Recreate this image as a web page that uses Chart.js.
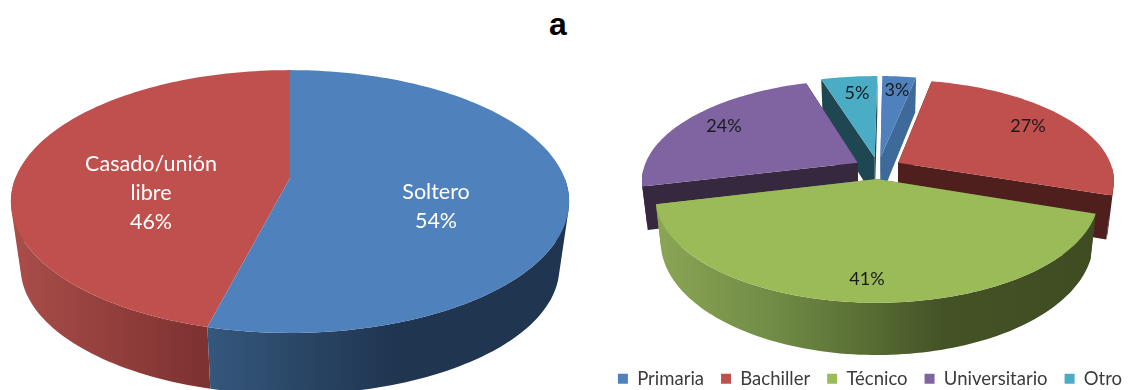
<!DOCTYPE html>
<html>
<head>
<meta charset="utf-8">
<script src="https://cdn.jsdelivr.net/npm/chart.js@4"></script>
<style>
    html, body { margin: 0; padding: 0; background: #fff; overflow: hidden; }
    #title { position: absolute; left: 508px; top: 0; width: 100px; text-align: center; font: bold 32px "Liberation Sans", Arial, sans-serif; color: #000; line-height: 48px; }
    canvas { position: absolute; top: 0; }
    #statusChart { left: 0; }
    #educationChart { left: 594px; }
</style>
</head>
<body>
<div id="title">a</div>
<canvas id="statusChart" width="594" height="390"></canvas>
<canvas id="educationChart" width="552" height="398"></canvas>
<script>
const statusLabels = ['Soltero', 'Casado/unión libre'];
const statusValues = [54, 46];
const educationLabels = ['Primaria', 'Bachiller', 'Técnico', 'Universitario', 'Otro'];
const educationValues = [3, 27, 41, 24, 5];

// Tilted disc: maps a point of the unit circle to the canvas with a bit of perspective
function project(disc, u, v) {
    const w = 1 - disc.p * v;
    return { x: disc.cx + disc.a * u / w, y: disc.cy + disc.b * v / w };
}

function rimAngles(arc) {
    const steps = Math.max(2, Math.ceil((arc.endAngle - arc.startAngle) * 40));
    const list = [];
    for (let i = 0; i <= steps; i++) {
        list.push(arc.startAngle + (arc.endAngle - arc.startAngle) * i / steps);
    }
    return list;
}

function rimPoints(disc, angles, ox, oy) {
    return angles.map(a => project(disc, Math.cos(a) + ox, Math.sin(a) + oy));
}

function fillPath(ctx, pts, fill) {
    ctx.beginPath();
    pts.forEach((p, i) => i ? ctx.lineTo(p.x, p.y) : ctx.moveTo(p.x, p.y));
    ctx.closePath();
    ctx.fillStyle = fill;
    ctx.fill();
}

// One path of same-wound quads between both rims, so the strips leave no seams
function fillWall(ctx, angles, oy, topRim, lowRim, fill) {
    ctx.beginPath();
    for (let n = 0; n < angles.length - 1; n++) {
        if (Math.sin((angles[n] + angles[n + 1]) / 2) + oy < 0) continue;
        let quad = [topRim[n], topRim[n + 1], lowRim[n + 1], lowRim[n]];
        const area = quad.reduce((sum, p, k) => {
            const q = quad[(k + 1) % 4];
            return sum + p.x * q.y - q.x * p.y;
        }, 0);
        if (area < 0) quad = quad.reverse();
        quad.forEach((p, k) => k ? ctx.lineTo(p.x, p.y) : ctx.moveTo(p.x, p.y));
        ctx.closePath();
    }
    ctx.fillStyle = fill;
    ctx.fill();
}

const pie3d = {
    id: 'pie3d',
    // the stock flat arcs are replaced, their angles still come from the controller
    beforeDatasetDraw(chart) {
        const ctx = chart.ctx;
        const opts = chart.options.plugins.pie3d;
        const dataset = chart.data.datasets[0];
        const arcs = chart.getDatasetMeta(0).data;

        const order = arcs.map((arc, i) => i).sort((i, j) => {
            const mid = k => Math.sin((arcs[k].startAngle + arcs[k].endAngle) / 2);
            return mid(i) - mid(j);
        });

        order.forEach(i => {
            const arc = arcs[i];
            const mid = (arc.startAngle + arc.endAngle) / 2;
            const ox = opts.explode * Math.cos(mid);
            const oy = opts.explode * Math.sin(mid);
            const angles = rimAngles(arc);
            const topRim = rimPoints(opts.top, angles, ox, oy);
            const lowRim = rimPoints(opts.bottom, angles, ox, oy);
            const topApex = project(opts.top, ox, oy);
            const lowApex = project(opts.bottom, ox, oy);

            // outer wall shading, left to right
            const shade = opts.walls[i];
            const x0 = shade[0][0];
            const x1 = shade[shade.length - 1][0];
            const grad = ctx.createLinearGradient(x0, 0, x1, 0);
            shade.forEach(s => grad.addColorStop((s[0] - x0) / (x1 - x0), s[1]));

            // cut faces of a pulled out slice
            if (opts.explode > 0) {
                const last = topRim.length - 1;
                const face = opts.faces[i] || grad;
                fillPath(ctx, [topApex, topRim[0], lowRim[0], lowApex], face);
                fillPath(ctx, [topApex, topRim[last], lowRim[last], lowApex], face);
            }

            fillWall(ctx, angles, oy, topRim, lowRim, grad);
            fillPath(ctx, [topApex].concat(topRim), dataset.backgroundColor[i]);
        });

        // value labels
        ctx.textAlign = 'center';
        ctx.textBaseline = 'middle';
        ctx.font = opts.labelFont;
        ctx.fillStyle = opts.labelColor;
        arcs.forEach((arc, i) => {
            const text = (opts.showNames ? chart.data.labels[i].split(' ') : []).concat(dataset.data[i] + '%');
            const spot = opts.labelSpots[i];
            text.forEach((line, n) => {
                ctx.fillText(line, spot[0], spot[1] + (n - (text.length - 1) / 2) * opts.lineHeight);
            });
        });
        return false;
    }
};

Chart.register(pie3d);

new Chart(document.getElementById('statusChart'), {
    type: 'pie',
    data: {
        labels: statusLabels,
        datasets: [{ data: statusValues, backgroundColor: ['#4f81bd', '#c0504d'], borderWidth: 0 }]
    },
    options: {
        responsive: false,
        animation: false,
        plugins: {
            legend: { display: false },
            tooltip: { enabled: false },
            pie3d: {
                explode: 0,
                top: { cx: 290, cy: 178, a: 274.6, b: 127.2, p: 0.179 },
                bottom: { cx: 290, cy: 245, a: 265, b: 122.7, p: 0.179 },
                walls: [
                    [[199, '#36597f'], [300, '#2a4666'], [400, '#1f3550'], [570, '#1f3550']],
                    [[11, '#aa4e4a'], [199, '#7e3231'], [300, '#7e3231']]
                ],
                faces: [],
                labelSpots: [[436, 207], [151, 193]],
                labelFont: '21.5px Lato, sans-serif',
                labelColor: '#ffffff',
                lineHeight: 29,
                showNames: true
            }
        }
    }
});

new Chart(document.getElementById('educationChart'), {
    type: 'pie',
    data: {
        labels: educationLabels,
        datasets: [{
            data: educationValues,
            backgroundColor: ['#4f81bd', '#c0504d', '#9bbb59', '#8064a2', '#4bacc6'],
            borderWidth: 0
        }]
    },
    options: {
        responsive: false,
        animation: false,
        rotation: 0.7,
        plugins: {
            legend: {
                position: 'bottom',
                labels: {
                    boxWidth: 10,
                    boxHeight: 10,
                    padding: 17,
                    color: '#3c3c3c',
                    font: { family: 'Lato, sans-serif', size: 18.5 }
                }
            },
            tooltip: { enabled: false },
            pie3d: {
                explode: 0.11,
                top: { cx: 284, cy: 168, a: 214, b: 98.5, p: 0.17 },
                bottom: { cx: 284, cy: 210, a: 209, b: 106, p: 0.17 },
                walls: [
                    [[0, '#3d6a99'], [552, '#3d6a99']],
                    [[0, '#4f1f1e'], [552, '#4f1f1e']],
                    [[61, '#8ba655'], [186, '#6f8a44'], [349, '#445326'], [503, '#3f4c22']],
                    [[0, '#35283f'], [552, '#35283f']],
                    [[0, '#1e4751'], [552, '#1e4751']]
                ],
                faces: ['#3d6a99', '#4f1f1e', null, '#35283f', '#1e4751'],
                labelSpots: [[303, 90], [434, 126], [273, 279], [130, 126], [263, 93]],
                labelFont: '18px Lato, sans-serif',
                labelColor: '#1a1a1a',
                lineHeight: 22,
                showNames: false
            }
        }
    }
});
</script>
</body>
</html>
